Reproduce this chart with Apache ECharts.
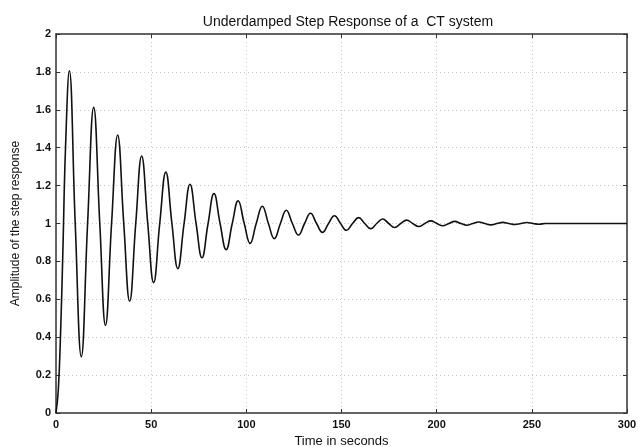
<!DOCTYPE html>
<html>
<head>
    <meta charset="UTF-8">
    <title>Underdamped Step Response</title>
    <script src="https://cdn.jsdelivr.net/npm/echarts@6/dist/echarts.min.js"></script>
    <style>
        html, body { margin: 0; padding: 0; background: #fff; }
        #main { width: 638px; height: 447px; }
    </style>
</head>
<body>
<div id="main"></div>
<script>
    // peaks, troughs and the crossings of 1 in between
    const timeSec = [0, 1.2, 2.4, 3.6, 5.0, 7.0, 10.1, 13.3, 16.6, 19.8, 23.0, 26.0, 29.2, 32.4, 35.6, 38.7,
        41.9, 45.0, 48.2, 51.3, 54.5, 57.7, 60.9, 64.0, 67.3, 70.4, 73.6, 76.7, 79.9, 83.0, 86.2, 89.4,
        92.6, 95.7, 98.9, 102.0, 105.2, 108.4, 111.6, 114.7, 117.9, 121.0, 124.2, 127.4, 130.6, 133.7,
        136.9, 140.0, 143.2, 146.3, 149.5, 152.6, 155.8, 159.0, 162.2, 165.3, 168.5, 171.6, 174.8, 177.9,
        181.1, 184.2, 187.4, 190.6, 193.8, 196.9, 200.1, 203.2, 206.4, 209.5, 212.7, 215.8, 219.0, 222.1,
        225.3, 228.5, 231.7, 234.7, 237.9, 241.1, 244.3, 247.4, 250.6, 253.8, 257.0, 270, 300];
    const amplitude = [0, 0.12, 0.42, 0.85, 1.40, 1.806, 1, 0.297, 1, 1.613, 1, 0.462, 1, 1.467, 1, 0.590,
        1, 1.356, 1, 0.688, 1, 1.271, 1, 0.762, 1, 1.207, 1, 0.819, 1, 1.158, 1, 0.862,
        1, 1.120, 1, 0.895, 1, 1.091, 1, 0.920, 1, 1.070, 1, 0.939, 1, 1.054,
        1, 0.953, 1, 1.041, 1, 0.964, 1, 1.031, 1, 0.973, 1, 1.024, 1, 0.979,
        1, 1.018, 1, 0.984, 1, 1.014, 1, 0.988, 1, 1.011, 1, 0.991, 1, 1.008,
        1, 0.993, 1, 1.006, 1, 0.995, 1, 1.005, 1, 0.996, 1, 1, 1];
    const xTicks = [0, 50, 100, 150, 200, 250, 300];
    const yTicks = [0, 0.2, 0.4, 0.6, 0.8, 1, 1.2, 1.4, 1.6, 1.8, 2];

    const points = timeSec.map((t, i) => [t, amplitude[i]]);

    const labelFont = {
        color: '#111',
        fontFamily: 'Liberation Sans, Arial, sans-serif',
        fontSize: 11,
        fontWeight: 'bold'
    };
    const gridDots = {show: true, lineStyle: {color: '#c8c8c8', type: [1, 3], width: 1}};
    const boxLine = {show: true, onZero: false, lineStyle: {color: '#333', width: 1.5}};
    const inTick = {show: true, inside: true, length: 4, lineStyle: {color: '#333', width: 1}};

    const chart = echarts.init(document.getElementById('main'), null, {renderer: 'canvas'});
    chart.setOption({
        animation: false,
        backgroundColor: '#fff',
        title: {
            text: 'Underdamped Step Response of a  CT system',
            left: 343,
            textAlign: 'center',
            top: 10,
            textStyle: {
                color: '#111',
                fontFamily: 'Liberation Sans, Arial, sans-serif',
                fontSize: 14,
                fontWeight: 'normal'
            }
        },
        grid: {left: 56, right: 11, top: 34, bottom: 34, containLabel: false, outerBoundsMode: 'none'},
        xAxis: [{
            type: 'value',
            min: xTicks[0],
            max: xTicks[xTicks.length - 1],
            interval: 50,
            name: 'Time in seconds',
            nameLocation: 'middle',
            nameGap: 21,
            nameTextStyle: Object.assign({}, labelFont, {fontSize: 13, fontWeight: 'normal'}),
            axisLine: boxLine,
            axisTick: inTick,
            axisLabel: Object.assign({margin: 6}, labelFont),
            splitLine: gridDots
        }, {
            type: 'value',
            position: 'top',
            min: xTicks[0],
            max: xTicks[xTicks.length - 1],
            interval: 50,
            axisLine: boxLine,
            axisTick: inTick,
            axisLabel: {show: false},
            splitLine: {show: false}
        }],
        yAxis: [{
            type: 'value',
            min: yTicks[0],
            max: yTicks[yTicks.length - 1],
            interval: 0.2,
            name: 'Amplitude of the step response',
            nameLocation: 'middle',
            nameGap: 34,
            nameTextStyle: Object.assign({}, labelFont, {fontSize: 12, fontWeight: 'normal'}),
            axisLine: boxLine,
            axisTick: inTick,
            axisLabel: Object.assign({margin: 5}, labelFont),
            splitLine: gridDots
        }, {
            type: 'value',
            position: 'right',
            min: yTicks[0],
            max: yTicks[yTicks.length - 1],
            interval: 0.2,
            axisLine: boxLine,
            axisTick: inTick,
            axisLabel: {show: false},
            splitLine: {show: false}
        }],
        series: [{
            type: 'line',
            data: points,
            xAxisIndex: 0,
            yAxisIndex: 0,
            showSymbol: false,
            smooth: 0.45,
            lineStyle: {color: '#111', width: 1.6},
            silent: true
        }]
    });
</script>
</body>
</html>
